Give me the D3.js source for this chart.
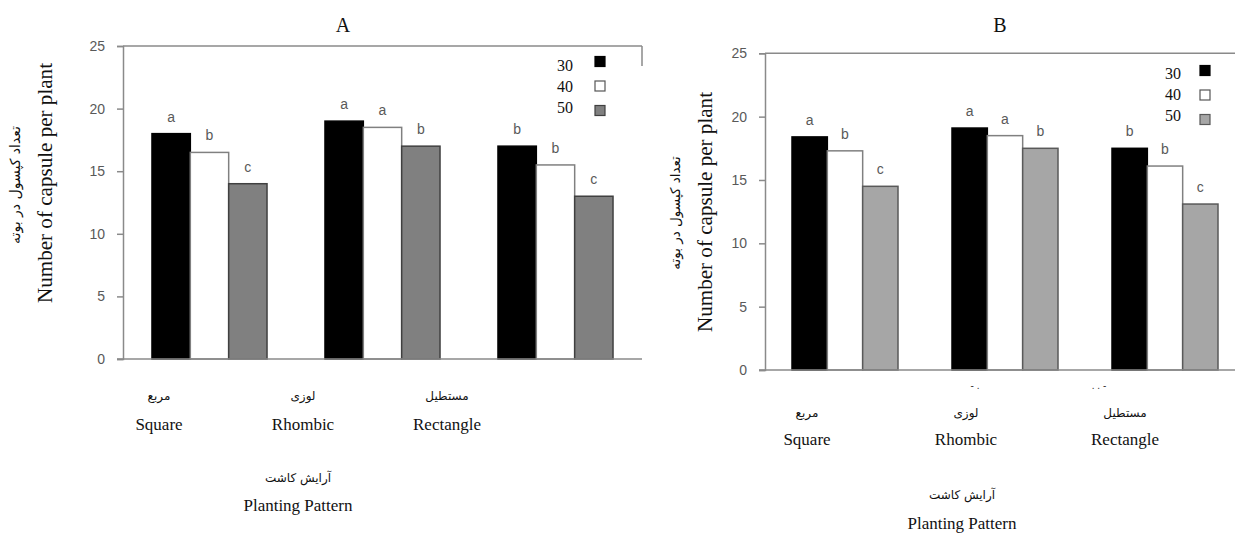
<!DOCTYPE html>
<html><head><meta charset="utf-8">
<script src="https://cdn.jsdelivr.net/npm/d3@7"></script>
<style>body{margin:0;background:#fff}svg{display:block}</style>
</head><body>
<svg id="c" width="1235" height="533"></svg>
<script>
// ---- data ----
const categories = ["Square", "Rhombic", "Rectangle"];
const categoriesFa = ["مربع", "لوزی", "مستطیل"];
const seriesNames = ["30", "40", "50"];
const valuesA = [[18.0, 16.5, 14.0], [19.0, 18.5, 17.0], [17.0, 15.5, 13.0]];
const lettersA = [["a", "b", "c"], ["a", "a", "b"], ["b", "b", "c"]];
const valuesB = [[18.4, 17.3, 14.5], [19.1, 18.5, 17.5], [17.5, 16.1, 13.1]];
const lettersB = [["a", "b", "c"], ["a", "a", "b"], ["b", "b", "c"]];
const yTicks = [0, 5, 10, 15, 20, 25];
const yTitle = "Number of capsule per plant";
const yTitleFa = "تعداد کپسول در بوته";
const xTitle = "Planting Pattern";
const xTitleFa = "آرایش کاشت";

const svg = d3.select("#c");
const serif = "'Liberation Serif','Times New Roman',serif";
const sans = "'Liberation Sans','Open Sans',sans-serif";
const fa = "'DejaVu Sans',sans-serif";
const axisCol = "#8a8a8a";

function panel(cfg) {
  const g = svg.append("g");
  const y = d3.scaleLinear().domain([0, 25]).range([cfg.y0, cfg.y25]);
  const x0 = d3.scaleBand().domain(categories).range([cfg.xl, cfg.xr]).paddingInner(cfg.pad).paddingOuter(cfg.pad / 2);
  const x1 = d3.scaleBand().domain(seriesNames).range([0, x0.bandwidth()]);
  const fills = ["#000000", "#ffffff", cfg.gray];
  const strokes = ["#000000", "#808080", cfg.grayStroke];

  // top border
  g.append("line").attr("x1", cfg.xl).attr("x2", cfg.topEnd).attr("y1", y(25)).attr("y2", y(25))
    .attr("stroke", axisCol).attr("stroke-width", 1.5);
  if (cfg.rightStub) {
    g.append("line").attr("x1", cfg.xr).attr("x2", cfg.xr).attr("y1", y(25)).attr("y2", y(25) + cfg.rightStub)
      .attr("stroke", axisCol).attr("stroke-width", 1.5);
  }

  // y axis
  const ya = g.append("g").attr("transform", `translate(${cfg.xl},0)`)
    .call(d3.axisLeft(y).tickValues(yTicks).tickSize(6).tickPadding(12));
  ya.select(".domain").attr("stroke", axisCol).attr("stroke-width", 1.5);
  ya.selectAll(".tick line").attr("stroke", axisCol).attr("stroke-width", 1.5);
  ya.selectAll(".tick text").attr("fill", "#595959").style("font-family", sans).style("font-size", "14px");

  // bars
  const vals = cfg.values;
  categories.forEach((c, ci) => {
    seriesNames.forEach((s, si) => {
      const v = vals[ci][si];
      const bx = x0(c) + x1(s);
      g.append("rect").attr("x", bx).attr("y", y(v)).attr("width", x1.bandwidth()).attr("height", y(0) - y(v))
        .attr("fill", fills[si]).attr("stroke", strokes[si]).attr("stroke-width", 1.5);
      g.append("text").attr("x", bx + x1.bandwidth() / 2).attr("y", y(v) - 12).attr("text-anchor", "middle")
        .attr("fill", "#595959").style("font-family", sans).style("font-size", "14px").text(cfg.letters[ci][si]);
    });
  });

  // x axis line
  g.append("line").attr("x1", cfg.xl - 6).attr("x2", cfg.xAxisEnd).attr("y1", y(0)).attr("y2", y(0))
    .attr("stroke", axisCol).attr("stroke-width", 1.5);

  // category labels
  const xl = d3.scalePoint().domain(categories).range(cfg.labelRange);
  categories.forEach((c, ci) => {
    g.append("text").attr("x", xl(c)).attr("y", cfg.faCatY).attr("text-anchor", "middle").attr("dominant-baseline", "central")
      .style("font-family", fa).style("font-size", "12px").attr("fill", "#111").text(categoriesFa[ci]);
    g.append("text").attr("x", xl(c)).attr("y", cfg.enCatY).attr("text-anchor", "middle")
      .style("font-family", serif).style("font-size", "17px").attr("fill", "#111").text(c);
  });

  // x title
  g.append("text").attr("x", cfg.xTitleX).attr("y", cfg.faTitleY).attr("text-anchor", "middle").attr("dominant-baseline", "central")
    .style("font-family", fa).style("font-size", "12px").attr("fill", "#111").text(xTitleFa);
  g.append("text").attr("x", cfg.xTitleX).attr("y", cfg.enTitleY).attr("text-anchor", "middle")
    .style("font-family", serif).style("font-size", "17px").attr("fill", "#111").text(xTitle);

  // y titles
  g.append("text").attr("transform", `translate(${cfg.yTitleX},${cfg.yTitleCY}) rotate(-90)`).attr("text-anchor", "middle")
    .attr("dominant-baseline", "central").style("font-family", serif).style("font-size", "20px").attr("fill", "#111")
    .attr("textLength", 240).attr("lengthAdjust", "spacingAndGlyphs").text(yTitle);
  g.append("text").attr("transform", `translate(${cfg.yTitleFaX},${cfg.yTitleFaCY}) rotate(-90)`).attr("text-anchor", "middle")
    .attr("dominant-baseline", "central").style("font-family", fa).style("font-size", cfg.faYSize).attr("fill", "#111").text(yTitleFa);

  // panel title
  g.append("text").attr("x", cfg.titleX).attr("y", cfg.titleY).attr("text-anchor", "middle")
    .style("font-family", serif).style("font-size", "20px").attr("fill", "#111").text(cfg.title);

  // legend
  seriesNames.forEach((s, si) => {
    g.append("text").attr("x", cfg.legTextX).attr("y", cfg.legTextY + si * 21).attr("text-anchor", "end").attr("dominant-baseline", "central")
      .style("font-family", serif).style("font-size", "16px").attr("fill", "#111").text(s);
    g.append("rect").attr("x", cfg.legBoxX).attr("y", cfg.legBoxY + si * 24.5).attr("width", 10).attr("height", 10)
      .attr("fill", fills[si]).attr("stroke", strokes[si] === "#808080" ? "#555" : strokes[si]).attr("stroke-width", 1.2);
  });
  return {g, xl, y};
}

panel({
  title: "A", titleX: 343, titleY: 32,
  values: valuesA, letters: lettersA,
  y0: 359, y25: 46, xl: 123, xr: 642, pad: 0.335,
  topEnd: 642, rightStub: 20, xAxisEnd: 642,
  gray: "#808080", grayStroke: "#404040",
  labelRange: [159, 447], faCatY: 396, enCatY: 430,
  xTitleX: 298, faTitleY: 478, enTitleY: 511,
  yTitleX: 45, yTitleCY: 183, yTitleFaX: 15, yTitleFaCY: 185, faYSize: "14px",
  legTextX: 573, legTextY: 65, legBoxX: 595, legBoxY: 56.5
});

const pB = panel({
  title: "B", titleX: 1000, titleY: 32,
  values: valuesB, letters: lettersB,
  y0: 370, y25: 53.3, xl: 765, xr: 1245, pad: 0.3375,
  topEnd: 1245, rightStub: 0, xAxisEnd: 1245,
  gray: "#a6a6a6", grayStroke: "#595959",
  labelRange: [807, 1125], faCatY: 413, enCatY: 445,
  xTitleX: 962, faTitleY: 495, enTitleY: 529,
  yTitleX: 705, yTitleCY: 212, yTitleFaX: 675, yTitleFaCY: 213, faYSize: "13.5px",
  legTextX: 1181, legTextY: 73, legBoxX: 1200, legBoxY: 65.5
});

// small marks under B's labels
pB.g.append("text").attr("x", 975).attr("y", 389).attr("text-anchor", "middle").style("font-family", sans)
  .style("font-size", "10px").attr("fill", "#333").text("- .");
pB.g.append("text").attr("x", 1099).attr("y", 389).attr("text-anchor", "middle").style("font-family", sans)
  .style("font-size", "10px").attr("fill", "#333").text(". . -");
</script>
</body></html>
